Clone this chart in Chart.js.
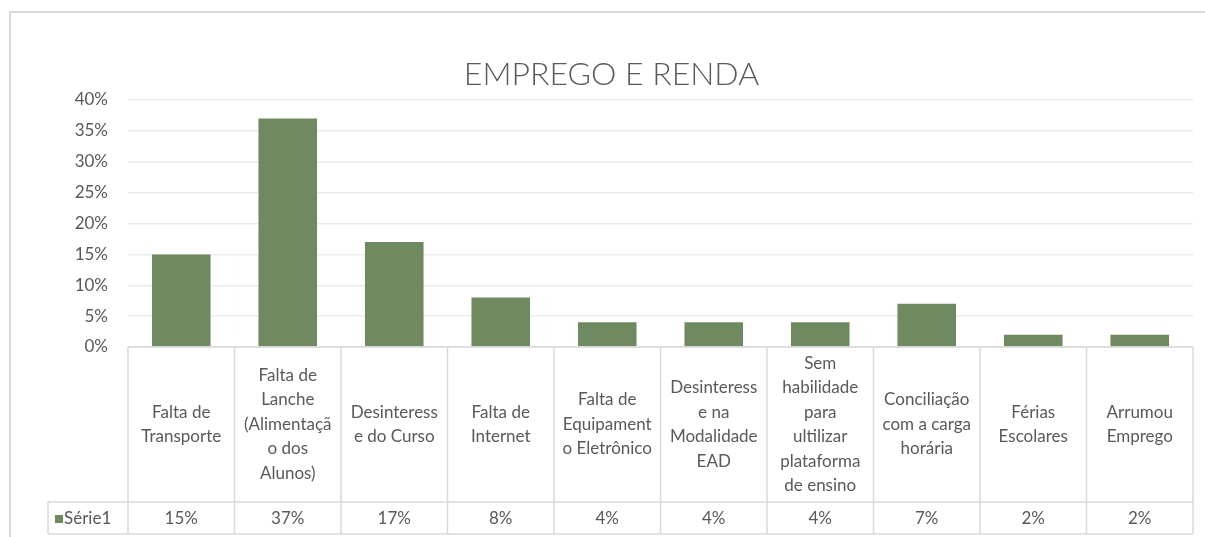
<!DOCTYPE html>
<html>
<head>
<meta charset="utf-8">
<script src="https://cdn.jsdelivr.net/npm/chart.js@4/dist/chart.umd.min.js"></script>
<style>
  body { margin: 0; background: #fff; }
  canvas { display: block; }
</style>
</head>
<body>
<canvas id="myChart" width="1205" height="537"></canvas>
<script>
// categorias (quebradas em linhas como aparecem na tabela)
const categorias = [
  ['Falta de', 'Transporte'],
  ['Falta de', 'Lanche', '(Alimentaçã', 'o dos', 'Alunos)'],
  ['Desinteress', 'e do Curso'],
  ['Falta de', 'Internet'],
  ['Falta de', 'Equipament', 'o Eletrônico'],
  ['Desinteress', 'e na', 'Modalidade', 'EAD'],
  ['Sem', 'habilidade', 'para', 'ultilizar', 'plataforma', 'de ensino'],
  ['Conciliação', 'com a carga', 'horária'],
  ['Férias', 'Escolares'],
  ['Arrumou', 'Emprego']
]
// percentuais da Série1
const serie1 = [0.15, 0.37, 0.17, 0.08, 0.04, 0.04, 0.04, 0.07, 0.02, 0.02]
// marcas do eixo y
const ticksY = [0, 0.05, 0.10, 0.15, 0.20, 0.25, 0.30, 0.35, 0.40]

const corTexto = '#595959'
const corBarra = '#6f8961'
const corLinha = '#d9d9d9'
const fonte = 'Lato, "Open Sans", sans-serif'

const pct = (v) => Math.round(v * 100) + '%'

// moldura do gráfico
const moldura = {
  id: 'moldura',
  beforeDraw(chart) {
    const c = chart.ctx
    c.save()
    c.strokeStyle = corLinha
    c.lineWidth = 2
    c.beginPath()
    c.moveTo(10, chart.height)
    c.lineTo(10, 12)
    c.lineTo(chart.width, 12)
    c.stroke()
    c.restore()
  }
}

// tabela de dados abaixo do gráfico
const tabela = {
  id: 'tabela',
  afterDraw(chart) {
    const c = chart.ctx
    const x = chart.scales.x
    const area = chart.chartArea
    const n = categorias.length
    const colW = (area.right - area.left) / n
    const topo = area.bottom
    const meio = 502
    const base = 534
    const legendaX = 48

    c.save()
    c.strokeStyle = corLinha
    c.lineWidth = 1.5
    c.beginPath()
    c.moveTo(area.left, topo); c.lineTo(area.right, topo)
    c.moveTo(legendaX, meio); c.lineTo(area.right, meio)
    c.moveTo(legendaX, base); c.lineTo(area.right, base)
    c.moveTo(legendaX, meio); c.lineTo(legendaX, base)
    for (let i = 0; i <= n; i++) {
      const bx = area.left + i * colW
      c.moveTo(bx, topo); c.lineTo(bx, base)
    }
    c.stroke()

    c.fillStyle = corTexto
    c.font = '17px ' + fonte
    c.textAlign = 'center'
    c.textBaseline = 'middle'
    const lh = 24.5
    categorias.forEach((linhas, i) => {
      const cx = x.getPixelForValue(i)
      const cy = (topo + meio) / 2
      const y0 = cy - (linhas.length - 1) * lh / 2
      linhas.forEach((t, k) => c.fillText(t, cx, y0 + k * lh))
      c.fillText(pct(serie1[i]), cx, (meio + base) / 2 + 1)
    })

    // chave da legenda
    const ds = chart.data.datasets[0]
    const ly = (meio + base) / 2 + 1
    c.fillStyle = ds.backgroundColor
    c.fillRect(55, ly - 4, 8, 8)
    c.fillStyle = corTexto
    c.textAlign = 'left'
    c.fillText(ds.label, 64, ly)
    c.restore()
  }
}

const ctx = document.getElementById('myChart').getContext('2d')
const myChart = new Chart(ctx, {
  type: 'bar',
  data: {
    labels: categorias,
    datasets: [
      {
        label: 'Série1',
        data: serie1,
        backgroundColor: corBarra,
        barPercentage: 0.55,
        categoryPercentage: 1,
      },
    ],
  },
  options: {
    responsive: false,
    animation: false,
    layout: { padding: { top: 0, left: 30, right: 12, bottom: 190 } },
    plugins: {
      legend: { display: false },
      tooltip: { enabled: false },
      title: {
        display: true,
        text: 'EMPREGO E RENDA',
        color: corTexto,
        font: { family: fonte, size: 32, weight: '300', lineHeight: 1.2 },
        padding: { top: 55, bottom: 6.6 },
      },
    },
    scales: {
      x: { display: false },
      y: {
        min: 0,
        max: 0.4,
        afterBuildTicks: (s) => { s.ticks = ticksY.map((v) => ({ value: v })) },
        afterFit: (s) => { s.width = 98 },
        border: { display: false },
        grid: { color: '#ebebeb', lineWidth: 1.5, drawTicks: false },
        ticks: {
          padding: 20,
          color: corTexto,
          font: { family: fonte, size: 17 },
          callback: (v) => pct(v),
        },
      },
    },
  },
  plugins: [moldura, tabela],
})
</script>
</body>
</html>
